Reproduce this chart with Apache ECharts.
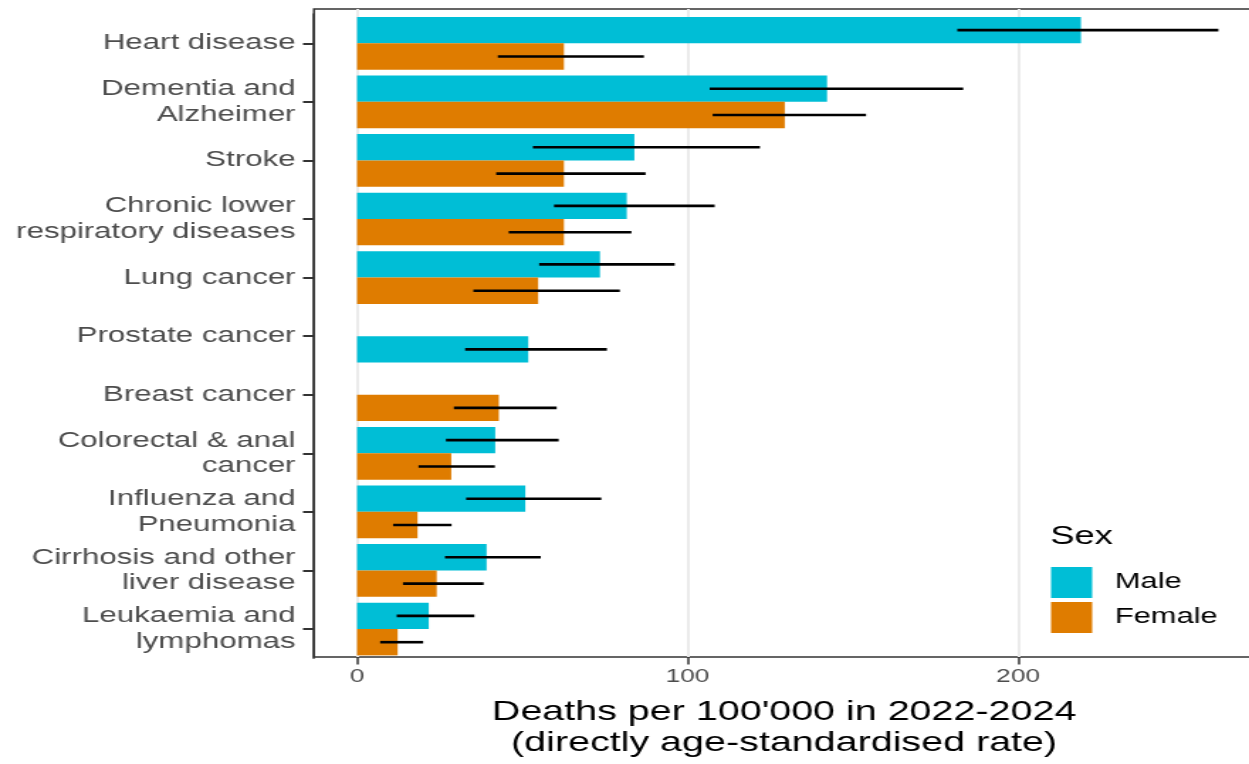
<!DOCTYPE html>
<html>
<head>
<meta charset="utf-8">
<script src="https://cdn.jsdelivr.net/npm/echarts@6/dist/echarts.min.js"></script>
<style>
html,body{margin:0;padding:0;background:#ffffff;overflow:hidden;}
#chart{width:890px;height:764px;transform:scaleX(1.41932);transform-origin:0 0;}
</style>
</head>
<body>
<div id="chart"></div>
<script>
// ---- data ----
const categories = [
  "Heart disease",
  "Dementia and\nAlzheimer",
  "Stroke",
  "Chronic lower\nrespiratory diseases",
  "Lung cancer",
  "Prostate cancer",
  "Breast cancer",
  "Colorectal & anal\ncancer",
  "Influenza and\nPneumonia",
  "Cirrhosis and other\nliver disease",
  "Leukaemia and\nlymphomas"
];
const male     = [219.0, 142.2, 83.9, 81.6, 73.5, 51.8, null, 41.8, 50.9, 39.2, 21.7];
const maleLo   = [181.6, 106.7, 53.2, 59.6, 55.1, 32.7, null, 26.9, 33.0, 26.6, 12.0];
const maleHi   = [260.6, 183.4, 121.9, 108.2, 96.1, 75.6, null, 61.0, 73.9, 55.6, 35.5];
const female   = [62.6, 129.4, 62.6, 62.6, 54.8, null, 42.9, 28.5, 18.3, 24.1, 12.3];
const femaleLo = [42.6, 107.6, 42.1, 45.9, 35.2, null, 29.3, 18.6, 10.9, 13.9, 7.0];
const femaleHi = [86.8, 154.0, 87.3, 83.0, 79.5, null, 60.4, 41.7, 28.6, 38.3, 20.0];
const xTicks = [0, 100, 200];
const seriesNames = ["Male", "Female"];
const legendTitle = "Sex";
const xTitle = "Deaths per 100'000 in 2022-2024\n(directly age-standardised rate)";

// ---- styling ----
const MALE_COLOR = '#00BED6';
const FEMALE_COLOR = '#DF7C00';
const FONT = '"Liberation Sans", Arial, Helvetica, sans-serif';
const X_MIN = -13.03, X_MAX = 273.6;

// Build slot data: upper slot = Male, lower slot = Female; a lone bar sits in the lower slot
const upperData = [], lowerData = [], errData = [];
categories.forEach((c, i) => {
  const m = male[i], f = female[i];
  if (m != null && f != null) {
    upperData.push(m);
    lowerData.push(f);
    errData.push([maleLo[i], maleHi[i], i, -1]);
    errData.push([femaleLo[i], femaleHi[i], i, 1]);
  } else if (m != null) {
    upperData.push(null);
    lowerData.push({ value: m, itemStyle: { color: MALE_COLOR } });
    errData.push([maleLo[i], maleHi[i], i, 1]);
  } else {
    upperData.push(null);
    lowerData.push(f);
    errData.push([femaleLo[i], femaleHi[i], i, 1]);
  }
});

const chart = echarts.init(document.getElementById('chart'));
const option = {
  backgroundColor: '#ffffff',
  animation: false,
  grid: [
    { left: 221.2, top: 9, width: 667.5, height: 654, show: true,
      borderColor: '#333333', borderWidth: 1.5, backgroundColor: 'transparent' },
    { left: 221.2, top: 14, width: 667.5, height: 644.3 }
  ],
  xAxis: [
    { type: 'value', gridIndex: 0, min: X_MIN, max: X_MAX,
      minInterval: 100, maxInterval: 100,
      axisLine: { show: false },
      axisTick: { show: true, length: 7.5, customValues: xTicks,
        lineStyle: { color: '#333333', width: 1.5 } },
      axisLabel: { customValues: xTicks,
        color: '#4D4D4D', fontSize: 18.5, fontFamily: FONT, margin: 10 },
      splitLine: { show: true, lineStyle: { color: '#EBEBEB', width: 2 } },
      name: xTitle, nameLocation: 'middle', nameGap: 40,
      nameTextStyle: { fontSize: 27.8, color: '#000000', fontFamily: FONT, lineHeight: 31,
        padding: [0, 5, 0, 0] }
    },
    { type: 'value', gridIndex: 1, min: X_MIN, max: X_MAX, show: false }
  ],
  yAxis: [
    { type: 'category', gridIndex: 1, data: categories, inverse: true,
      axisLine: { show: true, onZero: false, lineStyle: { color: '#333333', width: 1.5 } },
      axisTick: { show: true, alignWithLabel: true, length: 7.7,
        lineStyle: { color: '#333333', width: 2 } },
      axisLabel: { color: '#4D4D4D', fontSize: 22, fontFamily: FONT, margin: 13,
        lineHeight: 25.5, align: 'right' },
      splitLine: { show: false }
    },
    { type: 'value', gridIndex: 0, min: 0, max: 1, show: false }
  ],
  legend: {
    orient: 'vertical', left: 740.5, top: 567, padding: 0,
    itemWidth: 29, itemHeight: 31, itemGap: 4, icon: 'rect',
    selectedMode: false, data: seriesNames,
    textStyle: { fontSize: 21.7, color: '#000000', fontFamily: FONT, padding: [0, 0, 0, 11] }
  },
  graphic: [
    { type: 'text', left: 740, top: 524,
      style: { text: legendTitle, fill: '#000000', font: '25.6px ' + FONT } }
  ],
  series: [
    { name: seriesNames[0], type: 'bar', xAxisIndex: 1, yAxisIndex: 0,
      data: upperData, barGap: '0%', barCategoryGap: '10%',
      itemStyle: { color: MALE_COLOR } },
    { name: seriesNames[1], type: 'bar', xAxisIndex: 1, yAxisIndex: 0,
      data: lowerData, barGap: '0%', barCategoryGap: '10%',
      itemStyle: { color: FEMALE_COLOR } },
    { name: 'errorbars', type: 'custom', xAxisIndex: 1, yAxisIndex: 0, z: 5,
      data: errData, encode: { x: [0, 1], y: 2 },
      renderItem: function (params, api) {
        const p1 = api.coord([api.value(0), api.value(2)]);
        const p2 = api.coord([api.value(1), api.value(2)]);
        const band = api.size([0, 1])[1];
        const dy = api.value(3) * band * 0.225;
        return { type: 'line',
          shape: { x1: p1[0], y1: p1[1] + dy, x2: p2[0], y2: p2[1] + dy },
          style: { stroke: '#000000', lineWidth: 2.6 } };
      }
    }
  ]
};
chart.setOption(option);
</script>
</body>
</html>
